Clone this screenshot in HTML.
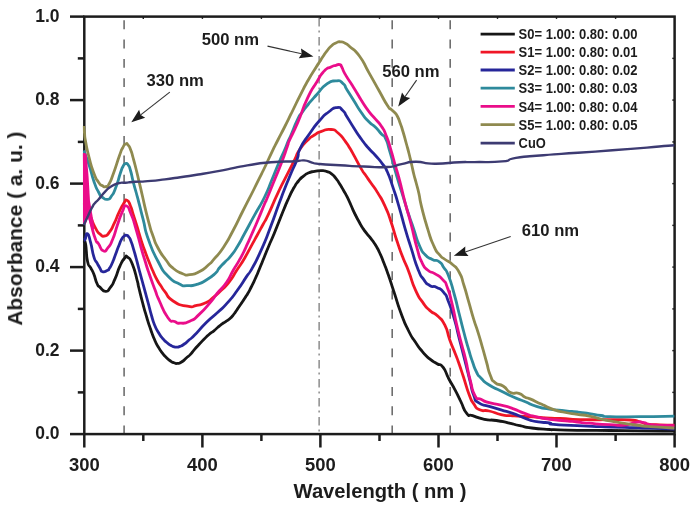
<!DOCTYPE html>
<html><head><meta charset="utf-8"><title>Absorbance</title>
<style>html,body{margin:0;padding:0;background:#fff}svg{display:block}</style></head>
<body>
<svg width="696" height="507" viewBox="0 0 696 507">
<rect width="696" height="507" fill="#fff"/>
<filter id="b" x="0" y="0" width="696" height="507" filterUnits="userSpaceOnUse"><feGaussianBlur stdDeviation="0.55"/></filter>
<g filter="url(#b)">
<line x1="124.1" y1="20.3" x2="124.1" y2="433" stroke="#6e6e6e" stroke-width="1.6" stroke-dasharray="8.9 10.4"/>
<line x1="392.2" y1="20.3" x2="392.2" y2="433" stroke="#6e6e6e" stroke-width="1.6" stroke-dasharray="8.9 10.4"/>
<line x1="450.2" y1="20.3" x2="450.2" y2="433" stroke="#6e6e6e" stroke-width="1.6" stroke-dasharray="8.9 10.4"/>
<line x1="319.1" y1="18" x2="319.1" y2="433" stroke="#6a6a6a" stroke-width="1.15" stroke-dasharray="8.5 4 2 4.5"/>
<g stroke="#1c1c1c" stroke-width="2.5" fill="none" stroke-linecap="butt">
<rect x="84.3" y="16.6" width="590.3" height="417.5"/>
<line x1="70" y1="434.1" x2="84.3" y2="434.1"/>
<line x1="77.8" y1="392.4" x2="84.3" y2="392.4"/>
<line x1="70" y1="350.6" x2="84.3" y2="350.6"/>
<line x1="77.8" y1="308.9" x2="84.3" y2="308.9"/>
<line x1="70" y1="267.1" x2="84.3" y2="267.1"/>
<line x1="77.8" y1="225.4" x2="84.3" y2="225.4"/>
<line x1="70" y1="183.6" x2="84.3" y2="183.6"/>
<line x1="77.8" y1="141.9" x2="84.3" y2="141.9"/>
<line x1="70" y1="100.1" x2="84.3" y2="100.1"/>
<line x1="77.8" y1="58.4" x2="84.3" y2="58.4"/>
<line x1="70" y1="16.6" x2="84.3" y2="16.6"/>
<line x1="84.3" y1="434.1" x2="84.3" y2="447.5"/>
<line x1="143.3" y1="434.1" x2="143.3" y2="441"/>
<line x1="202.4" y1="434.1" x2="202.4" y2="447.5"/>
<line x1="261.4" y1="434.1" x2="261.4" y2="441"/>
<line x1="320.4" y1="434.1" x2="320.4" y2="447.5"/>
<line x1="379.5" y1="434.1" x2="379.5" y2="441"/>
<line x1="438.5" y1="434.1" x2="438.5" y2="447.5"/>
<line x1="497.5" y1="434.1" x2="497.5" y2="441"/>
<line x1="556.5" y1="434.1" x2="556.5" y2="447.5"/>
<line x1="615.6" y1="434.1" x2="615.6" y2="441"/>
<line x1="674.6" y1="434.1" x2="674.6" y2="447.5"/>
<line x1="672.3" y1="392.4" x2="674.6" y2="392.4" stroke-width="1.4"/>
<line x1="143.3" y1="16.6" x2="143.3" y2="18.9" stroke-width="1.4"/>
<line x1="672.3" y1="350.6" x2="674.6" y2="350.6" stroke-width="1.4"/>
<line x1="202.4" y1="16.6" x2="202.4" y2="18.9" stroke-width="1.4"/>
<line x1="672.3" y1="308.9" x2="674.6" y2="308.9" stroke-width="1.4"/>
<line x1="261.4" y1="16.6" x2="261.4" y2="18.9" stroke-width="1.4"/>
<line x1="672.3" y1="267.1" x2="674.6" y2="267.1" stroke-width="1.4"/>
<line x1="320.4" y1="16.6" x2="320.4" y2="18.9" stroke-width="1.4"/>
<line x1="672.3" y1="225.4" x2="674.6" y2="225.4" stroke-width="1.4"/>
<line x1="379.5" y1="16.6" x2="379.5" y2="18.9" stroke-width="1.4"/>
<line x1="672.3" y1="183.6" x2="674.6" y2="183.6" stroke-width="1.4"/>
<line x1="438.5" y1="16.6" x2="438.5" y2="18.9" stroke-width="1.4"/>
<line x1="672.3" y1="141.9" x2="674.6" y2="141.9" stroke-width="1.4"/>
<line x1="497.5" y1="16.6" x2="497.5" y2="18.9" stroke-width="1.4"/>
<line x1="672.3" y1="100.1" x2="674.6" y2="100.1" stroke-width="1.4"/>
<line x1="556.5" y1="16.6" x2="556.5" y2="18.9" stroke-width="1.4"/>
<line x1="672.3" y1="58.4" x2="674.6" y2="58.4" stroke-width="1.4"/>
<line x1="615.6" y1="16.6" x2="615.6" y2="18.9" stroke-width="1.4"/>
</g>
<clipPath id="c"><rect x="82.8" y="16.6" width="591.8" height="417.5"/></clipPath>
<g clip-path="url(#c)" fill="none" stroke-width="2.8" stroke-linejoin="round" stroke-linecap="butt">
<path d="M83.7 241.0C84.3 242.0 84.3 237.2 85.6 244.0C86.9 250.8 85.8 253.4 87.5 261.3C89.2 269.2 88.5 263.5 90.6 267.7C92.7 271.9 91.7 268.7 93.8 274.0C95.9 279.3 94.9 279.0 97.0 283.5C99.1 288.0 97.2 284.8 100.1 287.4C103.0 290.0 102.2 291.4 105.6 291.4C109.0 291.4 107.2 291.6 110.4 287.4C113.6 283.2 111.9 285.8 115.1 278.7C118.3 271.6 116.7 272.9 119.9 266.1C123.1 259.3 122.0 261.1 124.6 258.2C127.2 255.3 125.2 255.3 127.8 257.4C130.4 259.5 129.4 256.8 132.5 264.5C135.6 272.2 135.1 272.7 137.2 280.5C139.3 288.3 137.0 280.3 138.9 288.0C140.8 295.7 140.2 293.7 142.8 303.5C145.4 313.3 144.2 308.8 146.8 317.5C149.4 326.2 148.1 322.0 150.7 329.5C153.3 337.0 152.1 334.0 154.7 340.0C157.3 346.0 156.0 343.1 158.6 347.5C161.2 351.9 160.0 349.9 162.6 353.3C165.2 356.7 163.9 355.2 166.5 357.8C169.1 360.4 168.0 359.3 170.5 361.0C173.0 362.7 171.7 362.0 174.0 362.8C176.3 363.6 174.9 363.7 177.4 363.4C179.9 363.1 178.5 363.8 181.5 362.0C184.5 360.2 183.4 360.5 186.3 358.0C189.2 355.5 187.6 357.3 190.2 354.6C192.8 351.9 191.3 353.2 194.2 349.8C197.1 346.4 195.7 348.0 199.0 344.5C202.3 341.0 200.7 342.6 204.0 339.3C207.3 336.0 205.7 337.3 209.0 334.5C212.3 331.7 210.9 333.2 213.9 330.8C216.9 328.4 215.3 329.5 217.9 327.3C220.5 325.1 219.2 326.1 221.8 324.2C224.4 322.3 223.1 323.4 225.7 321.6C228.3 319.8 226.9 321.3 229.7 318.8C232.5 316.3 231.6 317.0 234.0 314.0C236.4 311.0 232.8 315.9 237.0 309.7C241.2 303.5 241.7 303.2 246.5 295.5C251.3 287.8 248.3 292.7 251.5 286.5C254.7 280.3 253.2 283.3 256.0 277.0C258.8 270.7 257.2 274.2 260.0 267.5C262.8 260.8 261.3 264.3 264.3 257.0C267.3 249.7 265.7 253.3 269.0 245.5C272.3 237.7 270.9 241.5 274.2 233.5C277.5 225.5 275.7 229.7 279.0 221.5C282.3 213.3 280.7 217.0 284.0 209.0C287.3 201.0 285.7 204.6 289.0 197.5C292.3 190.4 290.7 193.3 293.9 187.8C297.1 182.3 295.2 185.0 298.5 181.0C301.8 177.0 300.3 178.6 303.8 175.9C307.3 173.2 305.4 174.3 309.0 172.8C312.6 171.3 310.4 172.1 314.6 171.4C318.8 170.7 317.6 170.5 321.7 170.6C325.8 170.7 323.7 170.5 327.0 171.6C330.3 172.7 328.8 171.8 331.6 173.9C334.4 176.0 332.9 174.6 335.5 177.8C338.1 181.0 336.8 179.4 339.4 183.5C342.0 187.6 340.7 185.4 343.3 190.0C345.9 194.6 344.7 191.9 347.3 197.2C349.9 202.5 348.6 200.0 351.2 205.8C353.8 211.6 352.5 209.1 355.2 214.5C357.9 219.9 356.6 217.3 359.2 222.0C361.8 226.7 360.5 224.7 363.1 228.6C365.7 232.5 364.4 230.5 367.0 233.8C369.6 237.1 368.2 234.9 371.0 238.6C373.8 242.3 372.7 240.4 375.5 245.0C378.3 249.6 376.8 246.8 379.5 252.5C382.2 258.2 380.6 254.6 383.5 262.0C386.4 269.4 384.7 264.6 388.3 274.8C391.9 285.0 389.9 279.6 394.2 292.6C398.5 305.6 396.6 301.3 401.3 313.9C406.0 326.5 403.7 321.0 408.4 330.5C413.1 340.0 410.8 335.2 415.5 342.3C420.2 349.4 417.9 346.3 422.6 351.8C427.3 357.3 424.9 354.9 429.7 358.9C434.5 362.9 432.7 360.9 437.1 363.7C441.5 366.5 439.1 362.1 443.0 367.2C446.9 372.3 444.9 371.5 448.9 379.0C452.9 386.5 450.9 382.2 454.9 389.7C458.9 397.2 456.9 393.6 460.8 401.5C464.7 409.4 462.8 408.7 466.7 413.4C470.6 418.1 466.7 413.7 472.6 415.7C478.5 417.7 476.5 417.7 484.4 419.3C492.3 420.9 488.4 419.3 496.3 420.5C504.2 421.7 500.2 421.1 508.1 422.8C516.0 424.5 512.0 424.0 519.9 425.7C527.8 427.4 521.9 426.7 531.8 428.0C541.7 429.3 542.2 428.9 549.5 429.5C556.8 430.1 544.4 429.4 553.7 429.7C563.0 430.0 558.5 430.0 577.3 430.3C596.1 430.6 589.1 430.3 610.0 430.5C630.9 430.7 618.5 430.7 640.0 430.9C661.5 431.1 663.1 431.0 674.6 431.0" stroke="#141414"/>
<path d="M83.7 203.0C84.8 205.0 84.7 204.4 87.0 209.0C89.3 213.6 87.8 210.6 90.6 216.9C93.4 223.2 92.2 222.1 95.4 227.9C98.6 233.7 96.9 231.6 100.1 234.2C103.3 236.8 101.7 236.6 104.9 235.8C108.1 235.0 106.5 236.1 109.6 231.9C112.7 227.7 111.1 229.8 114.3 223.2C117.5 216.6 115.9 218.7 119.1 212.1C122.3 205.5 121.2 207.3 123.8 203.4C126.4 199.5 124.8 199.4 127.0 200.3C129.2 201.2 128.4 201.2 130.5 206.0C132.6 210.8 131.1 207.7 133.3 214.7C135.5 221.7 134.6 218.4 137.2 227.0C139.8 235.6 138.6 232.2 141.2 240.4C143.8 248.6 142.5 244.3 145.1 251.5C147.7 258.7 146.5 255.5 149.1 262.1C151.7 268.7 150.4 265.4 153.0 271.3C155.6 277.2 154.3 274.9 157.0 279.8C159.7 284.7 158.4 282.1 161.0 286.0C163.6 289.9 160.9 286.6 164.9 291.6C168.9 296.6 165.6 296.1 173.1 301.0C180.6 305.9 179.4 304.7 187.3 306.2C195.2 307.7 190.5 306.6 196.8 305.4C203.1 304.2 200.9 305.1 206.3 302.5C211.7 299.9 208.6 301.0 213.0 297.5C217.4 294.0 214.2 297.1 219.5 292.0C224.8 286.9 223.2 289.5 228.9 282.3C234.6 275.1 231.5 278.4 236.6 270.5C241.7 262.6 239.6 266.6 244.3 258.7C249.0 250.8 246.5 254.7 250.8 246.8C255.1 238.9 253.2 242.4 257.3 235.0C261.4 227.6 259.2 231.5 263.0 224.5C266.8 217.5 263.6 224.5 268.6 213.9C273.6 203.3 271.8 206.0 278.1 192.6C284.4 179.2 282.1 184.7 287.6 173.7C293.1 162.7 290.8 167.4 294.7 159.5C298.6 151.6 295.2 156.3 299.4 150.0C303.6 143.7 302.3 145.5 307.3 140.5C312.3 135.5 309.7 138.1 314.4 135.0C319.1 131.9 316.0 133.1 321.5 131.3C327.0 129.5 325.5 128.9 331.0 129.5C336.5 130.1 333.4 129.1 338.1 133.0C342.8 136.9 341.3 136.1 345.2 141.2C349.1 146.3 346.9 143.4 349.9 148.3C352.9 153.2 350.4 149.0 354.2 155.9C358.0 162.8 357.4 162.3 361.3 168.9C365.2 175.5 362.8 171.2 366.0 175.8C369.2 180.4 366.8 177.0 370.8 182.8C374.8 188.6 373.2 185.3 377.9 193.1C382.6 200.9 380.7 196.7 385.0 206.2C389.3 215.7 387.0 210.1 390.9 221.5C394.8 232.9 392.9 228.7 396.8 240.5C400.7 252.3 398.8 246.8 402.7 257.0C406.6 267.2 404.3 260.1 408.6 271.2C412.9 282.3 410.8 279.9 415.5 290.2C420.2 300.5 417.9 295.4 422.6 302.1C427.3 308.8 424.6 305.7 429.7 310.4C434.8 315.1 432.9 311.2 438.0 316.3C443.1 321.4 441.2 317.8 445.1 325.7C449.0 333.6 446.4 330.6 449.8 339.9C453.2 349.2 452.0 345.3 455.2 353.5C458.4 361.7 456.6 356.7 459.3 364.5C462.0 372.3 460.1 366.8 463.4 376.8C466.7 386.8 465.6 385.4 469.1 394.4C472.6 403.4 470.3 398.8 473.8 403.9C477.3 409.0 474.6 407.4 479.7 409.8C484.8 412.2 482.1 409.4 489.2 411.0C496.3 412.6 493.9 413.0 501.0 414.6C508.1 416.2 504.2 415.2 510.5 415.7C516.8 416.2 510.1 415.6 519.9 416.2C529.7 416.8 526.6 416.7 540.0 417.5C553.4 418.3 545.0 417.8 560.0 418.5C575.0 419.2 568.3 419.2 585.0 419.6C601.7 420.0 595.0 419.6 610.0 419.7C625.0 419.8 620.0 419.3 630.0 420.0C640.0 420.7 634.0 420.4 640.0 421.8C646.0 423.2 641.3 423.2 648.0 424.2C654.7 425.2 651.1 424.5 660.0 424.8C668.9 425.1 669.7 425.1 674.6 425.2" stroke="#f01828"/>
<path d="M83.7 240.0C84.2 239.7 83.8 241.3 85.1 239.2C86.4 237.1 85.7 232.6 87.5 233.7C89.3 234.8 88.5 234.8 90.6 242.4C92.7 250.0 91.7 249.8 93.8 256.6C95.9 263.4 94.9 259.0 97.0 262.9C99.1 266.8 98.3 265.5 100.1 268.4C101.9 271.3 100.1 270.9 102.5 271.6C104.9 272.3 104.8 271.7 107.2 270.5C109.6 269.3 107.8 270.7 109.6 268.0C111.4 265.3 110.5 267.1 112.5 262.5C114.5 257.9 113.6 259.5 115.6 254.2C117.6 248.9 116.5 251.4 118.5 246.5C120.5 241.6 119.7 242.8 121.5 239.4C123.3 236.0 122.4 237.7 124.0 236.3C125.6 234.9 124.8 235.1 126.4 235.3C128.0 235.5 127.3 235.1 128.8 237.0C130.3 238.9 129.4 237.2 130.9 241.0C132.4 244.8 131.5 242.5 133.3 248.3C135.1 254.1 134.2 251.3 136.2 258.5C138.2 265.7 137.2 262.5 139.2 270.0C141.2 277.5 140.2 273.8 142.2 281.0C144.2 288.2 143.0 283.8 145.1 291.6C147.2 299.4 146.5 296.5 148.6 304.5C150.7 312.5 149.5 308.6 151.5 315.5C153.5 322.4 152.3 319.4 154.7 325.2C157.1 331.0 156.0 328.4 158.6 332.8C161.2 337.2 160.0 335.1 162.6 338.3C165.2 341.5 163.9 340.0 166.5 342.3C169.1 344.6 168.2 343.8 170.5 345.2C172.8 346.6 171.5 346.0 173.5 346.6C175.5 347.2 174.2 347.2 176.4 347.1C178.6 347.0 177.4 347.4 180.0 346.4C182.6 345.4 181.3 346.1 184.3 344.0C187.3 341.9 185.6 342.9 189.0 340.0C192.4 337.1 188.6 341.1 194.4 335.3C200.2 329.5 198.4 330.3 206.3 322.5C214.2 314.7 211.0 318.6 218.1 312.0C225.2 305.4 221.3 309.7 227.6 302.6C233.9 295.5 230.7 299.5 237.0 290.8C243.3 282.1 241.5 284.1 246.5 276.6C251.5 269.1 247.1 277.4 252.1 268.3C257.1 259.2 255.2 263.6 261.5 249.4C267.8 235.2 264.7 242.3 271.0 225.7C277.3 209.1 274.2 216.3 280.5 199.7C286.8 183.1 284.4 189.4 289.9 176.0C295.4 162.6 293.6 168.7 297.0 159.5C300.4 150.3 296.0 157.0 300.2 148.3C304.4 139.6 303.4 142.6 309.7 133.5C316.0 124.4 312.9 128.2 319.2 121.0C325.5 113.8 322.7 116.5 328.6 112.0C334.5 107.5 332.2 108.1 336.9 107.6C341.6 107.1 339.4 107.4 342.8 110.5C346.2 113.6 343.3 111.0 347.1 117.0C350.9 123.0 349.5 121.2 354.2 128.5C358.9 135.8 356.6 132.5 361.3 139.0C366.0 145.5 363.7 142.5 368.4 148.0C373.1 153.5 370.8 150.1 375.5 155.5C380.2 160.9 378.7 158.7 382.6 164.1C386.5 169.5 383.7 163.7 387.3 171.8C390.9 179.9 389.3 176.6 393.3 188.4C397.3 200.2 395.3 193.9 399.2 207.3C403.1 220.7 401.2 215.2 405.1 228.6C409.0 242.0 406.7 234.2 411.0 247.6C415.3 261.0 413.6 258.2 417.9 268.9C422.2 279.6 419.9 274.1 423.8 279.6C427.7 285.1 425.4 282.9 429.7 285.5C434.0 288.1 432.1 285.0 436.8 287.4C441.5 289.8 440.0 287.7 443.9 292.6C447.8 297.5 445.2 293.4 448.6 302.1C452.0 310.8 450.7 306.8 454.2 318.6C457.7 330.4 455.4 323.4 459.0 337.6C462.6 351.8 461.5 347.1 465.1 361.3C468.7 375.5 466.9 368.8 469.8 380.2C472.7 391.6 470.9 388.1 473.8 395.6C476.7 403.1 473.4 399.1 478.5 402.7C483.6 406.3 481.7 403.9 489.2 406.3C496.7 408.7 493.1 407.4 501.0 409.8C508.9 412.2 504.9 410.6 512.8 413.4C520.7 416.2 516.8 415.3 524.7 418.1C532.6 420.9 528.2 420.1 536.5 421.7C544.8 423.3 543.8 421.9 549.5 422.8C555.2 423.7 544.4 423.5 553.7 424.4C563.0 425.3 561.5 424.8 577.3 425.6C593.1 426.4 585.1 426.1 601.0 426.7C616.9 427.3 608.7 426.8 625.0 427.3C641.3 427.8 633.5 427.6 650.0 428.2C666.5 428.8 666.4 428.7 674.6 429.0" stroke="#28289a"/>
<path d="M83.7 150.5C85.5 155.3 85.7 154.8 89.1 165.0C92.5 175.2 90.7 172.0 93.8 181.0C96.9 190.0 95.6 186.6 98.5 192.0C101.4 197.4 99.4 194.9 102.5 197.3C105.6 199.7 104.7 199.7 107.7 199.3C110.7 198.9 108.9 199.7 111.5 196.0C114.1 192.3 112.6 195.8 115.6 188.1C118.6 180.4 118.0 180.0 120.5 172.8C123.0 165.6 121.3 169.6 123.0 166.5C124.7 163.4 123.9 164.1 125.6 163.6C127.3 163.1 126.6 162.7 128.2 165.0C129.8 167.3 128.8 164.8 130.5 170.5C132.2 176.2 131.4 174.7 133.3 182.2C135.2 189.7 134.3 185.8 136.3 193.0C138.3 200.2 136.9 195.0 139.2 203.9C141.5 212.8 140.1 207.7 143.2 219.7C146.3 231.7 143.6 226.1 148.6 240.0C153.6 253.9 151.8 249.6 158.1 261.5C164.4 273.4 160.5 268.2 167.6 275.7C174.7 283.2 172.8 280.7 179.4 284.0C186.0 287.3 181.5 285.5 187.3 285.6C193.1 285.7 190.5 286.3 196.8 284.4C203.1 282.5 200.0 283.8 206.3 280.0C212.6 276.2 211.5 276.8 215.7 273.0C219.9 269.2 215.8 272.2 218.9 268.5C222.0 264.8 220.8 266.4 225.0 262.0C229.2 257.6 227.2 260.7 231.5 255.2C235.8 249.7 233.6 252.7 238.0 245.5C242.4 238.3 239.1 243.5 244.6 233.5C250.1 223.5 247.7 227.6 254.4 215.4C261.1 203.2 258.7 209.0 264.6 197.0C270.5 185.0 267.2 191.0 272.0 179.5C276.8 168.0 274.7 172.5 279.0 162.5C283.3 152.5 281.8 156.5 284.8 149.5C287.8 142.5 285.9 146.3 288.0 141.5C290.1 136.7 287.8 142.3 291.0 135.0C294.2 127.7 293.7 127.2 297.5 119.5C301.3 111.8 298.8 117.2 302.5 112.0C306.2 106.8 303.7 109.8 308.5 104.0C313.3 98.2 310.9 101.0 316.8 94.5C322.7 88.0 320.0 88.9 326.3 84.4C332.6 79.9 330.2 81.3 335.7 80.9C341.2 80.5 339.0 80.3 342.8 83.3C346.6 86.3 343.3 84.0 347.1 90.0C350.9 96.0 349.5 93.8 354.2 101.3C358.9 108.8 356.6 105.8 361.3 112.5C366.0 119.2 363.7 116.4 368.4 121.3C373.1 126.2 371.2 123.1 375.5 127.3C379.8 131.5 378.0 130.3 381.4 134.0C384.8 137.7 382.9 133.2 385.6 138.5C388.3 143.8 386.6 140.8 389.4 150.0C392.2 159.2 390.9 155.5 393.9 166.0C396.9 176.5 395.0 170.3 398.4 181.5C401.8 192.7 400.5 188.2 404.0 199.5C407.5 210.8 405.8 205.8 409.0 215.5C412.2 225.2 410.2 218.7 413.6 228.6C417.0 238.5 415.4 236.5 419.3 245.2C423.2 253.9 420.9 250.0 425.2 254.7C429.5 259.4 427.6 257.0 432.3 259.4C437.0 261.8 435.5 259.0 439.4 261.8C443.3 264.6 440.8 263.1 443.9 267.8C447.0 272.5 445.1 267.1 448.6 276.0C452.1 284.9 450.8 282.0 454.3 294.5C457.8 307.0 455.9 301.0 459.1 313.5C462.3 326.0 460.7 320.2 463.8 332.0C466.9 343.8 465.6 339.2 468.5 349.0C471.4 358.8 469.7 353.8 472.4 361.5C475.1 369.2 473.7 366.5 476.5 372.0C479.3 377.5 476.7 373.6 480.9 377.9C485.1 382.2 482.5 380.7 489.2 385.0C495.9 389.3 493.1 387.0 501.0 390.9C508.9 394.8 504.9 393.3 512.8 396.8C520.7 400.3 516.8 398.3 524.7 401.5C532.6 404.7 528.2 403.8 536.5 406.3C544.8 408.8 539.8 407.6 549.5 409.1C559.2 410.6 556.2 409.8 565.5 410.8C574.8 411.8 569.4 411.0 577.3 412.0C585.2 413.0 581.3 412.5 589.2 413.7C597.1 414.9 594.1 414.5 601.0 415.5C607.9 416.5 597.0 416.3 610.0 416.7C623.0 417.1 618.5 416.9 640.0 416.7C661.5 416.5 663.1 416.3 674.6 416.1" stroke="#2e8a9c"/>
<path d="M83.7 153.2C84.4 165.5 84.4 171.4 85.9 190.0C87.4 208.6 86.5 197.4 88.3 209.0C90.1 220.6 89.0 214.8 91.4 224.8C93.8 234.8 93.0 232.7 95.4 239.0C97.8 245.3 95.9 239.8 98.5 243.7C101.1 247.6 100.1 249.5 103.3 250.8C106.5 252.1 104.8 251.6 108.0 247.7C111.2 243.8 109.6 246.6 112.8 239.0C116.0 231.4 114.4 233.8 117.5 224.8C120.6 215.8 119.3 218.4 122.2 212.1C125.1 205.8 123.3 205.3 126.2 205.8C129.1 206.3 127.7 206.3 130.9 213.7C134.1 221.1 132.3 216.6 135.7 228.0C139.1 239.4 138.1 237.0 141.2 248.0C144.3 259.0 142.5 252.5 145.1 261.0C147.7 269.5 145.8 263.9 149.1 273.5C152.4 283.1 151.7 280.9 155.0 289.7C158.3 298.5 154.8 290.8 159.0 300.0C163.2 309.2 162.4 310.0 167.6 317.2C172.8 324.4 170.4 319.6 174.7 321.6C179.0 323.6 175.4 323.3 180.4 323.2C185.4 323.1 183.4 324.1 189.7 321.2C196.0 318.3 192.1 321.0 199.2 314.4C206.3 307.8 205.0 308.5 211.0 301.5C217.0 294.5 211.9 299.9 217.1 293.5C222.3 287.1 221.3 290.0 226.6 282.3C231.9 274.6 228.6 278.4 233.1 270.5C237.6 262.6 235.9 266.6 240.2 258.7C244.5 250.8 242.4 254.7 246.1 246.8C249.8 238.9 247.6 243.6 251.4 235.0C255.2 226.4 253.2 231.2 257.5 221.0C261.8 210.8 261.1 212.2 264.3 204.5C267.5 196.8 263.9 206.0 267.2 198.0C270.5 190.0 269.6 192.2 274.3 180.5C279.0 168.8 277.1 174.3 281.4 163.0C285.7 151.7 284.6 154.2 287.3 146.5C290.0 138.8 286.1 148.1 289.6 140.0C293.1 131.9 292.0 136.1 297.9 122.3C303.8 108.5 301.0 112.0 307.3 98.6C313.6 85.2 311.3 91.1 316.8 82.0C322.3 72.9 319.2 76.4 323.9 71.4C328.6 66.4 327.0 69.0 331.0 67.0C335.0 65.0 333.1 66.1 336.0 65.3C338.9 64.5 337.8 63.9 339.8 64.6C341.8 65.3 340.1 64.2 342.0 67.5C343.9 70.8 341.3 67.6 345.4 74.6C349.5 81.6 348.9 79.9 354.2 88.4C359.5 96.9 356.6 92.7 361.3 100.2C366.0 107.7 363.7 104.6 368.4 110.9C373.1 117.2 371.2 114.1 375.5 119.2C379.8 124.3 377.8 120.8 381.4 126.3C385.0 131.8 383.0 127.8 386.2 135.7C389.4 143.6 387.8 139.6 390.9 149.9C394.0 160.2 392.8 156.8 395.6 166.5C398.4 176.2 396.0 166.9 399.2 178.9C402.4 190.9 401.2 187.6 405.1 202.6C409.0 217.6 407.1 208.9 411.0 223.9C414.9 238.9 413.3 235.0 416.9 247.6C420.5 260.2 418.1 254.3 421.7 261.8C425.3 269.3 423.3 266.1 427.6 270.0C431.9 273.9 429.7 270.4 434.7 273.6C439.7 276.8 438.4 274.8 442.7 279.6C447.0 284.4 444.3 279.6 447.5 287.9C450.7 296.2 449.1 291.8 452.2 304.4C455.3 317.0 453.7 312.3 456.9 325.7C460.1 339.1 458.8 333.6 461.7 344.7C464.6 355.8 462.7 347.1 465.5 358.9C468.3 370.7 467.0 368.0 470.2 380.2C473.4 392.4 471.4 389.3 475.0 395.6C478.6 401.9 476.2 396.8 480.9 399.2C485.6 401.6 482.5 400.7 489.2 402.7C495.9 404.7 493.1 403.1 501.0 405.1C508.9 407.1 504.9 405.8 512.8 408.6C520.7 411.4 516.8 410.6 524.7 413.4C532.6 416.2 528.2 414.9 536.5 416.9C544.8 418.9 539.8 418.0 549.5 419.3C559.2 420.6 556.2 419.9 565.5 420.8C574.8 421.7 569.4 421.2 577.3 422.0C585.2 422.8 578.3 422.3 589.2 423.2C600.1 424.1 598.1 424.1 610.0 424.7C621.9 425.3 616.3 425.8 625.0 425.0C633.7 424.2 629.7 423.1 636.0 422.3C642.3 421.5 638.7 421.8 644.0 422.6C649.3 423.4 641.8 423.8 652.0 424.8C662.2 425.8 667.1 425.3 674.6 425.6" stroke="#ea0f8a"/>
<path d="M82.9 153.5L86.6 153.5L88.6 177L90 201L92.8 217.5L94.6 229L91.5 229L88 218L85.8 224L82.9 224Z" fill="#ea0f8a" stroke="none"/>
<path d="M83.8 126.0C84.0 128.3 83.9 127.8 84.5 133.0C85.1 138.2 84.1 133.3 85.6 141.5C87.1 149.7 86.4 147.0 89.1 157.5C91.8 168.0 90.7 164.8 93.8 173.0C96.9 181.2 95.6 177.9 98.5 182.2C101.4 186.5 100.1 184.3 102.5 185.8C104.9 187.3 103.5 187.2 105.7 186.6C107.9 186.0 106.4 188.5 109.0 184.0C111.6 179.5 110.1 182.5 113.6 173.0C117.1 163.5 116.5 163.8 119.5 155.5C122.5 147.2 120.6 151.8 122.6 148.0C124.6 144.2 123.7 144.9 125.6 144.0C127.5 143.1 126.5 143.1 128.3 145.3C130.1 147.5 129.2 146.1 130.9 150.5C132.6 154.9 131.5 152.0 133.3 158.5C135.1 165.0 134.3 162.1 136.3 170.0C138.3 177.9 137.2 173.9 139.2 182.2C141.2 190.5 140.2 186.5 142.2 195.0C144.2 203.5 142.8 198.3 145.1 207.8C147.4 217.3 146.5 214.2 149.1 223.6C151.7 233.0 150.0 227.9 153.0 236.0C156.0 244.1 153.7 240.0 158.0 248.0C162.3 256.0 161.0 253.2 166.0 260.0C171.0 266.8 167.6 263.7 173.1 268.3C178.6 272.9 177.1 271.6 182.6 273.7C188.1 275.8 184.2 275.3 189.7 274.7C195.2 274.1 192.9 275.1 199.2 271.8C205.5 268.5 203.6 269.0 208.6 264.7C213.6 260.4 209.2 264.8 214.2 258.9C219.2 253.0 217.4 256.5 223.7 247.0C230.0 237.5 226.8 242.3 233.1 230.5C239.4 218.7 237.3 221.9 242.6 211.5C247.9 201.1 243.8 209.2 248.9 199.2C254.0 189.2 252.3 192.5 257.8 181.4C263.3 170.3 260.7 175.9 265.4 166.0C270.1 156.1 267.8 160.5 272.0 151.8C276.2 143.1 273.7 148.3 277.9 140.0C282.1 131.7 279.7 136.7 284.6 127.0C289.5 117.3 287.2 121.7 292.5 111.0C297.8 100.3 295.2 105.0 300.4 94.8C305.6 84.6 302.8 89.7 308.0 80.5C313.2 71.3 312.3 73.5 316.1 67.3C319.9 61.1 317.2 65.6 319.5 62.0C321.8 58.4 320.5 60.2 323.0 56.5C325.5 52.8 324.3 54.2 327.0 50.8C329.7 47.4 328.1 48.9 331.0 46.3C333.9 43.7 332.6 44.5 335.8 43.0C339.0 41.5 337.4 41.7 340.5 41.8C343.6 41.9 342.1 41.6 345.2 43.3C348.3 45.0 345.2 42.6 349.9 46.8C354.6 51.0 353.1 47.4 359.4 56.0C365.7 64.6 362.3 61.0 368.9 72.6C375.5 84.2 373.0 79.9 379.1 90.8C385.2 101.7 383.3 99.1 387.3 105.3C391.3 111.5 388.6 107.0 391.0 109.3C393.4 111.6 392.2 109.9 394.4 112.3C396.6 114.7 395.5 112.7 397.5 116.5C399.5 120.3 398.5 118.6 400.4 123.8C402.3 129.0 401.1 125.4 403.1 132.0C405.1 138.6 404.3 136.3 406.3 143.5C408.3 150.7 407.3 146.7 409.0 153.5C410.7 160.3 409.8 156.8 411.5 164.0C413.2 171.2 412.4 168.7 414.0 175.0C415.6 181.3 414.6 176.8 416.2 183.0C417.8 189.2 417.1 185.4 418.9 193.5C420.7 201.6 418.8 195.6 421.7 207.3C424.6 219.0 423.7 216.0 427.6 228.6C431.5 241.2 429.6 236.5 433.5 245.2C437.4 253.9 435.5 249.9 439.4 254.7C443.3 259.5 440.8 256.3 445.1 259.5C449.4 262.7 447.5 259.9 452.2 264.2C456.9 268.5 455.4 265.4 459.3 272.5C463.2 279.6 460.8 275.6 464.0 285.5C467.2 295.4 465.6 291.1 468.8 302.1C472.0 313.1 470.4 308.4 473.5 318.6C476.6 328.8 475.0 322.5 478.2 332.8C481.4 343.1 480.2 339.7 483.0 349.4C485.8 359.1 484.0 353.3 486.5 362.0C489.0 370.7 487.5 368.6 490.4 375.5C493.3 382.4 490.8 379.0 495.1 382.6C499.4 386.2 498.3 382.9 503.4 386.2C508.5 389.5 505.4 390.1 510.5 392.5C515.6 394.9 514.1 391.8 518.8 393.3C523.5 394.8 521.0 395.1 524.7 397.0C528.4 398.9 524.3 396.5 530.0 398.9C535.7 401.3 533.9 400.7 541.8 404.3C549.7 407.9 545.8 406.9 553.7 409.6C561.6 412.3 557.6 410.9 565.5 412.5C573.4 414.1 569.4 413.1 577.3 414.3C585.2 415.5 581.3 414.5 589.2 416.1C597.1 417.7 594.1 417.4 601.0 419.0C607.9 420.6 598.5 418.8 610.0 420.8C621.5 422.8 620.5 423.0 635.5 425.0C650.5 427.0 642.0 425.8 655.0 426.8C668.0 427.8 668.1 427.6 674.6 428.0" stroke="#8f8a50"/>
<path d="M83.7 225.0C84.8 222.7 84.3 223.7 87.0 218.0C89.7 212.3 89.1 213.0 91.8 208.0C94.5 203.0 92.8 205.8 95.0 203.0C97.2 200.2 95.2 203.2 98.5 199.5C101.8 195.8 100.7 196.3 104.9 191.9C109.1 187.5 106.5 189.3 111.2 186.4C115.9 183.5 114.4 184.4 119.1 183.2C123.8 182.0 120.1 183.2 125.4 182.7C130.7 182.2 126.5 182.4 135.0 181.8C143.5 181.2 137.8 182.2 151.0 180.9C164.2 179.6 158.9 180.1 174.7 178.0C190.5 175.9 182.0 177.1 198.3 174.5C214.6 171.9 207.4 173.1 223.7 170.1C240.0 167.1 231.5 168.0 247.3 165.4C263.1 162.8 255.2 163.7 271.0 162.3C286.8 160.9 283.7 161.9 294.7 161.3C305.7 160.7 298.2 160.0 304.0 160.4C309.8 160.8 306.8 161.4 312.0 162.6C317.2 163.8 310.4 163.1 319.7 164.0C329.0 164.9 325.3 164.5 340.0 165.3C354.7 166.1 347.9 165.9 363.7 166.5C379.5 167.1 374.7 167.8 387.3 167.0C399.9 166.2 392.0 165.8 401.5 164.1C411.0 162.4 404.6 161.9 415.7 161.8C426.8 161.7 420.1 163.6 434.7 163.7C449.3 163.8 446.2 162.7 459.5 162.2C472.8 161.7 460.3 162.4 474.5 162.1C488.7 161.8 488.2 162.8 502.0 161.4C515.8 160.0 502.1 160.0 515.9 157.9C529.7 155.8 522.7 156.9 543.4 155.2C564.1 153.5 554.9 154.4 577.9 152.8C600.9 151.2 589.4 152.0 612.4 150.3C635.4 148.6 626.2 149.3 646.9 147.6C667.6 145.9 665.4 146.0 674.6 145.2" stroke="#3c3a72" stroke-width="2.4"/>
</g>
<text x="59.5" y="439.0" text-anchor="end" font-size="17.5" textLength="24.3" lengthAdjust="spacingAndGlyphs" font-family="'Liberation Sans', Arial, sans-serif" font-weight="bold" fill="#1c1c1c">0.0</text>
<text x="59.5" y="355.5" text-anchor="end" font-size="17.5" textLength="24.3" lengthAdjust="spacingAndGlyphs" font-family="'Liberation Sans', Arial, sans-serif" font-weight="bold" fill="#1c1c1c">0.2</text>
<text x="59.5" y="272.0" text-anchor="end" font-size="17.5" textLength="24.3" lengthAdjust="spacingAndGlyphs" font-family="'Liberation Sans', Arial, sans-serif" font-weight="bold" fill="#1c1c1c">0.4</text>
<text x="59.5" y="188.5" text-anchor="end" font-size="17.5" textLength="24.3" lengthAdjust="spacingAndGlyphs" font-family="'Liberation Sans', Arial, sans-serif" font-weight="bold" fill="#1c1c1c">0.6</text>
<text x="59.5" y="105.0" text-anchor="end" font-size="17.5" textLength="24.3" lengthAdjust="spacingAndGlyphs" font-family="'Liberation Sans', Arial, sans-serif" font-weight="bold" fill="#1c1c1c">0.8</text>
<text x="59.5" y="21.5" text-anchor="end" font-size="17.5" textLength="24.3" lengthAdjust="spacingAndGlyphs" font-family="'Liberation Sans', Arial, sans-serif" font-weight="bold" fill="#1c1c1c">1.0</text>
<text x="84.3" y="471.0" text-anchor="middle" font-size="17.6" textLength="30.8" lengthAdjust="spacingAndGlyphs" font-family="'Liberation Sans', Arial, sans-serif" font-weight="bold" fill="#1c1c1c">300</text>
<text x="202.4" y="471.0" text-anchor="middle" font-size="17.6" textLength="30.8" lengthAdjust="spacingAndGlyphs" font-family="'Liberation Sans', Arial, sans-serif" font-weight="bold" fill="#1c1c1c">400</text>
<text x="320.4" y="471.0" text-anchor="middle" font-size="17.6" textLength="30.8" lengthAdjust="spacingAndGlyphs" font-family="'Liberation Sans', Arial, sans-serif" font-weight="bold" fill="#1c1c1c">500</text>
<text x="438.5" y="471.0" text-anchor="middle" font-size="17.6" textLength="30.8" lengthAdjust="spacingAndGlyphs" font-family="'Liberation Sans', Arial, sans-serif" font-weight="bold" fill="#1c1c1c">600</text>
<text x="556.5" y="471.0" text-anchor="middle" font-size="17.6" textLength="30.8" lengthAdjust="spacingAndGlyphs" font-family="'Liberation Sans', Arial, sans-serif" font-weight="bold" fill="#1c1c1c">700</text>
<text x="674.6" y="471.0" text-anchor="middle" font-size="17.6" textLength="30.8" lengthAdjust="spacingAndGlyphs" font-family="'Liberation Sans', Arial, sans-serif" font-weight="bold" fill="#1c1c1c">800</text>
<text x="380.1" y="497.5" text-anchor="middle" font-size="20" textLength="173" lengthAdjust="spacingAndGlyphs" font-family="'Liberation Sans', Arial, sans-serif" font-weight="bold" fill="#1c1c1c">Wavelength ( nm )</text>
<text transform="translate(22.1 228.6) rotate(-90)" text-anchor="middle" font-size="20" textLength="194" lengthAdjust="spacingAndGlyphs" font-family="'Liberation Sans', Arial, sans-serif" font-weight="bold" fill="#1c1c1c">Absorbance ( a. u. )</text>
<text x="146.6" y="86.2" font-size="16" textLength="57.3" lengthAdjust="spacingAndGlyphs" font-family="'Liberation Sans', Arial, sans-serif" font-weight="bold" fill="#1c1c1c">330 nm</text>
<text x="201.7" y="44.8" font-size="16" textLength="57.3" lengthAdjust="spacingAndGlyphs" font-family="'Liberation Sans', Arial, sans-serif" font-weight="bold" fill="#1c1c1c">500 nm</text>
<text x="382.2" y="76.6" font-size="16" textLength="57.3" lengthAdjust="spacingAndGlyphs" font-family="'Liberation Sans', Arial, sans-serif" font-weight="bold" fill="#1c1c1c">560 nm</text>
<text x="521.8" y="236.2" font-size="16" textLength="57.3" lengthAdjust="spacingAndGlyphs" font-family="'Liberation Sans', Arial, sans-serif" font-weight="bold" fill="#1c1c1c">610 nm</text>
<line x1="169.8" y1="92.1" x2="140.7" y2="114.9" stroke="#333" stroke-width="1.1"/>
<polygon points="131.3,122.3 139.1,109.8 140.7,114.9 145.2,117.7" fill="#1a1a1a"/>
<line x1="267.5" y1="46.1" x2="301.7" y2="53.8" stroke="#333" stroke-width="1.1"/>
<polygon points="313.4,56.4 298.8,58.3 301.7,53.8 301.0,48.5" fill="#1a1a1a"/>
<line x1="416.6" y1="80.1" x2="405.0" y2="96.7" stroke="#333" stroke-width="1.1"/>
<polygon points="398.2,106.6 402.0,92.4 405.0,96.7 410.2,98.1" fill="#1a1a1a"/>
<line x1="510.7" y1="236.5" x2="465.2" y2="251.9" stroke="#333" stroke-width="1.1"/>
<polygon points="453.8,255.8 465.3,246.6 465.2,251.9 468.5,256.1" fill="#1a1a1a"/>
<line x1="480.6" y1="34.2" x2="514.8" y2="34.2" stroke="#141414" stroke-width="2.8"/>
<text x="518.6" y="39.4" font-size="14.4" textLength="119" lengthAdjust="spacingAndGlyphs" font-family="'Liberation Sans', Arial, sans-serif" font-weight="bold" fill="#1c1c1c">S0= 1.00: 0.80: 0.00</text>
<line x1="480.6" y1="52.1" x2="514.8" y2="52.1" stroke="#f01828" stroke-width="2.8"/>
<text x="518.6" y="57.3" font-size="14.4" textLength="119" lengthAdjust="spacingAndGlyphs" font-family="'Liberation Sans', Arial, sans-serif" font-weight="bold" fill="#1c1c1c">S1= 1.00: 0.80: 0.01</text>
<line x1="480.6" y1="70.0" x2="514.8" y2="70.0" stroke="#28289a" stroke-width="2.8"/>
<text x="518.6" y="75.2" font-size="14.4" textLength="119" lengthAdjust="spacingAndGlyphs" font-family="'Liberation Sans', Arial, sans-serif" font-weight="bold" fill="#1c1c1c">S2= 1.00: 0.80: 0.02</text>
<line x1="480.6" y1="88.2" x2="514.8" y2="88.2" stroke="#2e8a9c" stroke-width="2.8"/>
<text x="518.6" y="93.4" font-size="14.4" textLength="119" lengthAdjust="spacingAndGlyphs" font-family="'Liberation Sans', Arial, sans-serif" font-weight="bold" fill="#1c1c1c">S3= 1.00: 0.80: 0.03</text>
<line x1="480.6" y1="106.4" x2="514.8" y2="106.4" stroke="#ea0f8a" stroke-width="2.8"/>
<text x="518.6" y="111.6" font-size="14.4" textLength="119" lengthAdjust="spacingAndGlyphs" font-family="'Liberation Sans', Arial, sans-serif" font-weight="bold" fill="#1c1c1c">S4= 1.00: 0.80: 0.04</text>
<line x1="480.6" y1="124.7" x2="514.8" y2="124.7" stroke="#8f8a50" stroke-width="2.8"/>
<text x="518.6" y="129.9" font-size="14.4" textLength="119" lengthAdjust="spacingAndGlyphs" font-family="'Liberation Sans', Arial, sans-serif" font-weight="bold" fill="#1c1c1c">S5= 1.00: 0.80: 0.05</text>
<line x1="480.6" y1="143.2" x2="514.8" y2="143.2" stroke="#3c3a72" stroke-width="2.8"/>
<text x="518.6" y="148.4" font-size="14.4" textLength="27.2" lengthAdjust="spacingAndGlyphs" font-family="'Liberation Sans', Arial, sans-serif" font-weight="bold" fill="#1c1c1c">CuO</text>
</g>
</svg>
</body></html>
